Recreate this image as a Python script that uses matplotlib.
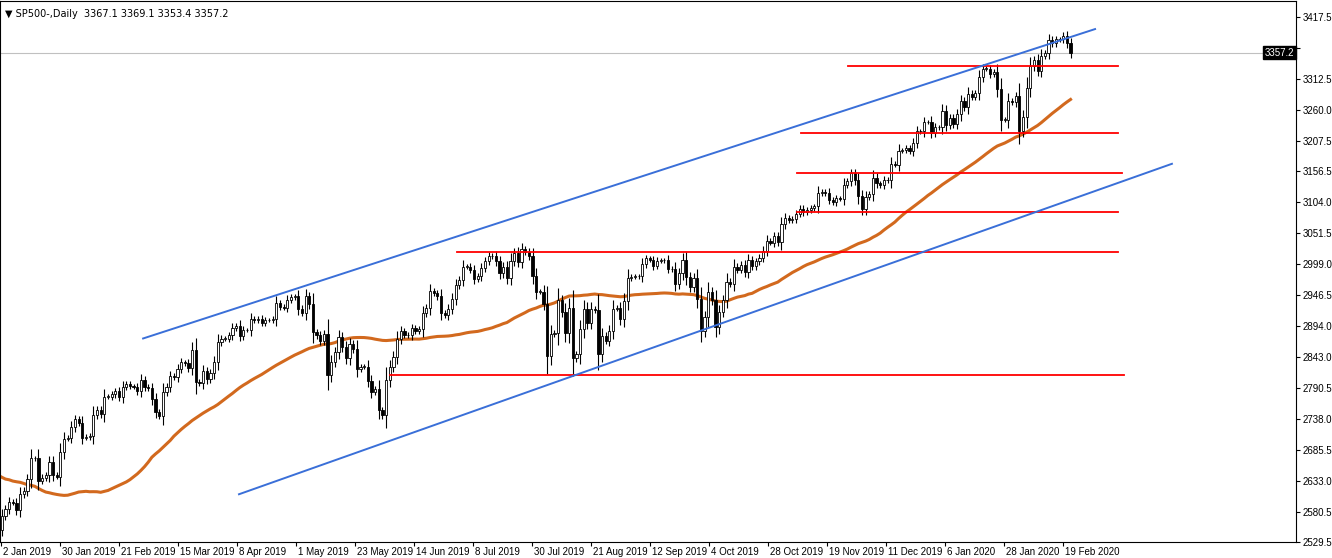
import matplotlib
matplotlib.use("Agg")
import matplotlib.pyplot as plt
import numpy as np
import pandas as pd

# Daily closes before the visible window (only used to warm up the moving average)
warmup = [2767, 2755, 2768, 2809, 2750, 2740, 2656, 2705, 2641, 2658, 2711,
          2740, 2723, 2755, 2813, 2806, 2781, 2726, 2722, 2701, 2730, 2736, 2690, 2641,
          2649, 2632, 2673, 2682, 2744, 2738, 2760,
          2790, 2700, 2695, 2634, 2633, 2637, 2651, 2650, 2600, 2546, 2545, 2507, 2467,
          2416, 2351, 2468, 2489, 2486, 2506]

# Daily closes, one per bar, 2 Jan 2019 .. 20 Feb 2020
closes_by_month = [
    [2510, 2448, 2532, 2550, 2574, 2585, 2597, 2596, 2583, 2610, 2616, 2635, 2671, 2671, 2633, 2638, 2642, 2664, 2643, 2640, 2681, 2704],
    [2706, 2724, 2737, 2731, 2706, 2707, 2709, 2744, 2753, 2745, 2775, 2775, 2779, 2784, 2774, 2792, 2796, 2793, 2792, 2784],
    [2803, 2792, 2789, 2771, 2749, 2743, 2783, 2792, 2810, 2808, 2822, 2833, 2832, 2824, 2854, 2800, 2798, 2818, 2805, 2815, 2834],
    [2867, 2873, 2873, 2879, 2892, 2895, 2878, 2888, 2888, 2907, 2905, 2907, 2900, 2905, 2905, 2907, 2933, 2927, 2926, 2939, 2943, 2945],
    [2924, 2917, 2945, 2932, 2884, 2879, 2870, 2881, 2811, 2834, 2850, 2876, 2859, 2840, 2864, 2856, 2822, 2826, 2826, 2802, 2783, 2788, 2752],
    [2744, 2803, 2826, 2843, 2873, 2886, 2880, 2879, 2891, 2886, 2889, 2917, 2926, 2954, 2950, 2945, 2917, 2913, 2924, 2941],
    [2964, 2973, 2995, 2995, 2990, 2975, 2979, 2993, 3004, 3013, 3014, 3004, 2984, 2995, 2976, 3005, 3019, 3003, 3025, 3020, 3013, 2980, 2953],
    [2953, 2932, 2844, 2881, 2883, 2938, 2919, 2883, 2926, 2840, 2847, 2889, 2924, 2900, 2924, 2922, 2847, 2878, 2870, 2887, 2924, 2926],
    [2906, 2937, 2976, 2978, 2979, 2979, 3000, 3009, 3007, 2997, 3005, 3006, 3006, 2992, 2991, 2966, 2984, 3007, 2977, 2961, 2976],
    [2940, 2887, 2910, 2952, 2938, 2893, 2919, 2938, 2970, 2966, 2995, 2990, 2998, 2986, 3006, 2996, 3004, 3010, 3022, 3039, 3036, 3047, 3037],
    [3067, 3078, 3074, 3076, 3085, 3093, 3087, 3091, 3094, 3097, 3120, 3122, 3120, 3108, 3104, 3111, 3110, 3134, 3140, 3153, 3141],
    [3114, 3093, 3113, 3118, 3146, 3136, 3133, 3142, 3141, 3169, 3168, 3191, 3192, 3196, 3191, 3205, 3224, 3224, 3240, 3240, 3222, 3231],
    [3231, 3258, 3235, 3246, 3237, 3253, 3275, 3265, 3288, 3283, 3289, 3316, 3330, 3330, 3321, 3325, 3295, 3244, 3244, 3276, 3273, 3284, 3225],
    [3249, 3297, 3334, 3345, 3327, 3352, 3357, 3379, 3373, 3380, 3380, 3386, 3373, 3357],
]
closes = np.array([c for m in closes_by_month for c in m], dtype=float)

# support / resistance lines: (price, start bar, end bar)
red_levels = [
    (3334.7, 235.2, 309.0),
    (3221.5, 222.4, 309.0),
    (3154.0, 221.3, 310.1),
    (3088.0, 221.3, 309.0),
    (3020.6, 128.4, 309.0),
    (2811.0, 110.1, 310.6),
]
# channel lines: (start bar, price, end bar, price)
channel = [
    (42.6, 2873.6, 302.7, 3397.2),
    (68.8, 2610.0, 323.7, 3169.2),
]
tick_labels = ["2 Jan 2019", "30 Jan 2019", "21 Feb 2019", "15 Mar 2019", "8 Apr 2019",
               "1 May 2019", "23 May 2019", "14 Jun 2019", "8 Jul 2019", "30 Jul 2019",
               "21 Aug 2019", "12 Sep 2019", "4 Oct 2019", "28 Oct 2019", "19 Nov 2019",
               "11 Dec 2019", "6 Jan 2020", "28 Jan 2020", "19 Feb 2020"]
tick_bars = [3.8 + 16.12 * k for k in range(len(tick_labels))]
price_ticks = [3417.5, 3365.0, 3312.5, 3260.0, 3207.5, 3156.5, 3104.0, 3051.5, 2999.0,
               2946.5, 2894.0, 2843.0, 2790.5, 2738.0, 2685.5, 2633.0, 2580.5, 2529.5]
last_price = 3357.2

opens = np.r_[warmup[-1], closes[:-1]]
highs = np.maximum(opens, closes) + np.abs(closes - opens) * 0.3 + 4
lows = np.minimum(opens, closes) - np.abs(closes - opens) * 0.3 - 4
ma = pd.Series(np.r_[warmup, closes]).rolling(50, min_periods=1).mean().to_numpy()[len(warmup):]

fig = plt.figure(figsize=(13.32, 5.58), dpi=100)
ax = fig.add_axes([0.0, 0.029, 1296 / 1332, 0.969])
x = np.arange(len(closes))

ax.axhline(last_price, color="#c0c0c0", lw=0.8, zorder=1)
ax.plot(x, ma, color="#d2691e", lw=2.2, zorder=2)
ax.vlines(x, lows, highs, color="black", lw=0.8, zorder=3)
for i in range(len(closes)):
    o, c = opens[i], closes[i]
    up = c >= o
    ax.bar(i, max(abs(c - o), 0.6), bottom=min(o, c), width=0.6,
           color="white" if up else "black", edgecolor="black", lw=0.6, zorder=4)

for p, a, b in red_levels:
    ax.plot([a, b], [p, p], color="red", lw=1.3, zorder=5)
for a, pa, b, pb in channel:
    ax.plot([a, b], [pa, pb], color="#3a6fd8", lw=1.4, zorder=5)

ax.set_xlim(3.5, 3.5 + 1296 / 3.66)
ax.set_ylim(2529.5, 3444.5)
ax.yaxis.tick_right()
ax.set_yticks(price_ticks)
ax.set_yticklabels([f"{v:.1f}" for v in price_ticks], fontsize=7, family="Liberation Sans")
ax.tick_params(axis="y", length=3, pad=2)
ax.set_xticks(tick_bars)
ax.set_xticklabels([])
ax.tick_params(axis="x", length=3, direction="out")
for t, lab in zip(tick_bars, tick_labels):
    ax.text(t + 0.6, 2529.5 - 8, lab, fontsize=7, family="Liberation Sans",
            ha="left", va="top", clip_on=False)
for s in ax.spines.values():
    s.set_linewidth(0.8)

ax.text(1300 / 1332, last_price, f"{last_price:.1f}", transform=ax.get_yaxis_transform(),
        fontsize=7, color="white", va="center", ha="left", family="Liberation Sans",
        bbox=dict(boxstyle="square,pad=0.15", fc="black", ec="black"), zorder=10)
ax.get_yticklabels()[1].set_visible(False)
ax.text(0.004, 0.985, "\u25bc SP500-,Daily  3367.1 3369.1 3353.4 3357.2", transform=ax.transAxes,
        fontsize=7, va="top", ha="left", family="DejaVu Sans")

fig.savefig("out.png", dpi=100)
